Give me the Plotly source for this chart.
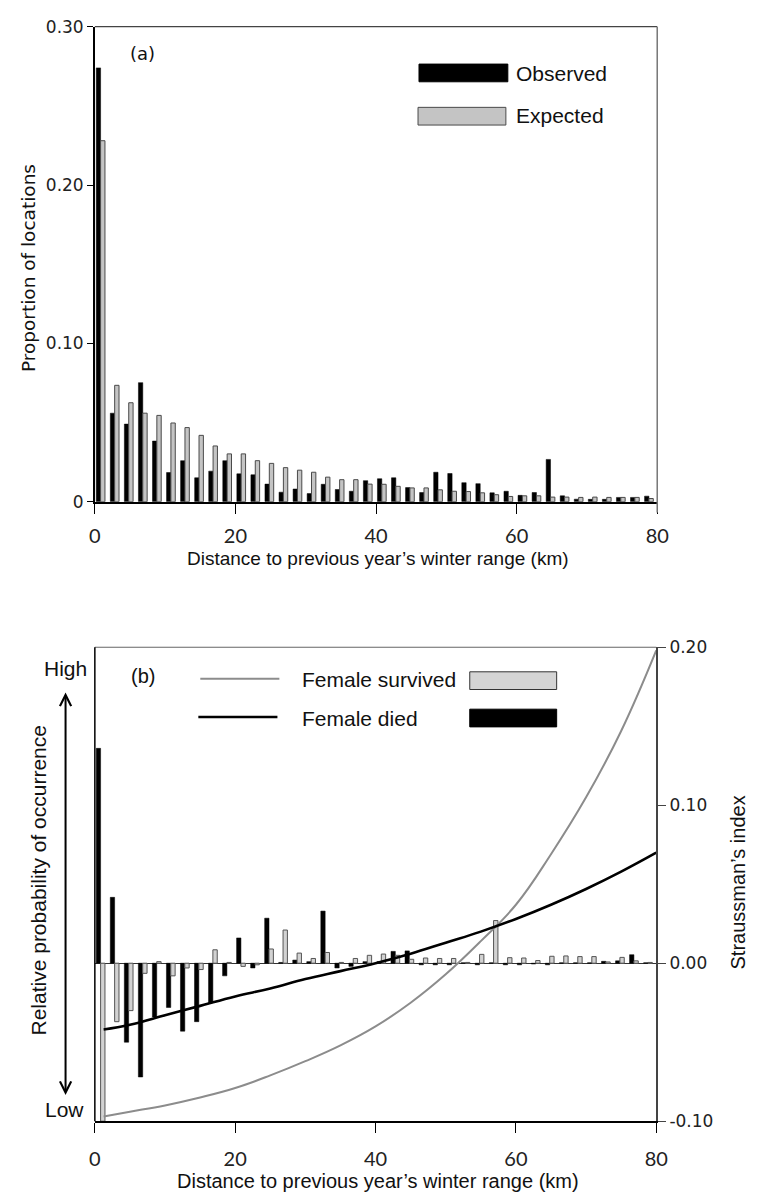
import plotly.graph_objects as go

W, H = 761, 1203

# ---------------- data ----------------
bin_start_km = list(range(0, 80, 2))  # 2-km distance bins, 0..78

# Panel (a): proportion of locations
observed = [0.274, 0.0559, 0.049, 0.0752, 0.0383, 0.0184, 0.0259, 0.0151, 0.0193, 0.0259,
            0.0176, 0.017, 0.0111, 0.006, 0.008, 0.0051, 0.011, 0.0077, 0.0066, 0.0133,
            0.0145, 0.0151, 0.0089, 0.0058, 0.0186, 0.0178, 0.012, 0.0114, 0.0056, 0.0066,
            0.004, 0.0058, 0.0267, 0.0037, 0.0016, 0.0015, 0.0015, 0.0027, 0.0027, 0.0035]
expected = [0.228, 0.0735, 0.0625, 0.0559, 0.0545, 0.0497, 0.0468, 0.0419, 0.0352, 0.0302,
            0.0302, 0.0259, 0.0242, 0.0215, 0.0199, 0.0186, 0.0155, 0.0139, 0.0139, 0.0111,
            0.011, 0.0097, 0.0087, 0.0087, 0.0075, 0.0066, 0.0064, 0.0056, 0.0044, 0.0033,
            0.0037, 0.0037, 0.0029, 0.0029, 0.0027, 0.0029, 0.0027, 0.0027, 0.0027, 0.002]

# Panel (b): Straussman's index per bin
female_died = [0.136, 0.0417, -0.050, -0.072, -0.034, -0.028, -0.043, -0.037, -0.025, -0.008,
               0.016, -0.003, 0.0285, 0.0005, 0.002, 0.001, 0.033, -0.003, -0.002, 0.001,
               0.001, 0.0075, 0.0078, -0.001, -0.001, -0.001, 0.0003, -0.001, 0.0003, -0.001,
               -0.001, -0.0005, -0.001, 0.0003, 0.0003, 0.0003, 0.0012, 0.0015, 0.0054, 0.0003]
female_survived = [-0.100, -0.037, -0.030, -0.0064, 0.001, -0.008, -0.003, -0.004, 0.0085, 0.0005,
                   -0.002, -0.001, 0.009, 0.021, 0.0064, 0.003, 0.0068, 0.0005, 0.003, 0.005,
                   0.0058, 0.005, 0.0025, 0.0033, 0.003, 0.003, 0.0005, 0.0056, 0.027, 0.0035,
                   0.0033, 0.0017, 0.0044, 0.0046, 0.0042, 0.0042, 0.0008, 0.0037, 0.0015, 0.0005]

# Fitted curves
curve_km = [1.25, 5, 10, 15, 20, 25, 30, 35, 40, 45, 50, 55, 60, 65, 70, 75, 80]
survived_curve = [-0.097, -0.094, -0.090, -0.085, -0.079, -0.071, -0.062, -0.052, -0.040,
                  -0.025, -0.007, 0.014, 0.037, 0.069, 0.105, 0.147, 0.198]
died_curve = [-0.042, -0.039, -0.033, -0.027, -0.021, -0.016, -0.010, -0.005, 0.000,
              0.006, 0.013, 0.020, 0.028, 0.037, 0.047, 0.058, 0.070]

x_ticks = [0, 20, 40, 60, 80]
x_ticktext = ["0", "20", "40", "60", "80"]
ya_ticks = [0, 0.1, 0.2, 0.3]
ya_ticktext = ["0", "0.10", "0.20", "0.30"]
yb_ticks = [-0.1, 0.0, 0.1, 0.2]
yb_ticktext = ["-0.10", "0.00", "0.10", "0.20"]

# ---------------- helpers ----------------
def px(x):
    return x / W

def py(y):
    return 1 - y / H

VER = "DejaVu Sans"
ARI = "Liberation Sans, Arial"
CAL = "Lato, Liberation Sans"

fig = go.Figure()

BW = 0.62
# Panel (a) bars
fig.add_trace(go.Bar(x=bin_start_km, y=observed, offset=0.2, width=BW,
                     marker=dict(color="black", line=dict(color="black", width=0.5)),
                     xaxis="x", yaxis="y", showlegend=False))
fig.add_trace(go.Bar(x=bin_start_km, y=expected, offset=0.2 + BW, width=BW,
                     marker=dict(color="#c4c4c4", line=dict(color="#4a4a4a", width=1)),
                     xaxis="x", yaxis="y", showlegend=False))

# Panel (b) bars
fig.add_trace(go.Bar(x=bin_start_km, y=female_died, offset=0.2, width=BW,
                     marker=dict(color="black", line=dict(color="black", width=0.5)),
                     xaxis="x2", yaxis="y2", showlegend=False))
fig.add_trace(go.Bar(x=bin_start_km, y=female_survived, offset=0.2 + BW, width=BW,
                     marker=dict(color="#d2d2d2", line=dict(color="#555555", width=1)),
                     xaxis="x2", yaxis="y2", showlegend=False))

# Panel (b) curves
fig.add_trace(go.Scatter(x=curve_km, y=survived_curve, mode="lines",
                         line=dict(color="#8c8c8c", width=2, shape="spline", smoothing=1.2),
                         xaxis="x2", yaxis="y2", showlegend=False))
fig.add_trace(go.Scatter(x=curve_km, y=died_curve, mode="lines",
                         line=dict(color="black", width=2.6, shape="spline", smoothing=1.2),
                         xaxis="x2", yaxis="y2", showlegend=False))

fig.update_layout(
    width=W, height=H,
    margin=dict(l=0, r=0, t=0, b=0),
    paper_bgcolor="white", plot_bgcolor="white",
    barmode="overlay",
    xaxis=dict(domain=[px(91), px(667)], range=[0, 80], anchor="y",
               showline=True, linecolor="black", linewidth=1.5,
               ticks="outside", ticklen=11, tickwidth=1, tickcolor="black",
               ticklabelstandoff=5,
               tickvals=x_ticks, ticktext=x_ticktext, showgrid=False, zeroline=False,
               tickfont=dict(family=CAL, size=20, color="#222")),
    yaxis=dict(domain=[py(500), py(17)], range=[0, 0.30], anchor="x",
               showline=True, linecolor="black", linewidth=1.5,
               ticks="outside", ticklen=6, tickwidth=1, tickcolor="black",
               tickvals=ya_ticks, ticktext=ya_ticktext, showgrid=False, zeroline=False,
               tickfont=dict(family=VER, size=17, color="#222")),
    xaxis2=dict(domain=[px(91), px(666)], range=[0, 80], anchor="y2",
                showline=True, linecolor="black", linewidth=1.5,
                ticks="outside", ticklen=10, tickwidth=1, tickcolor="black",
                ticklabelstandoff=9,
                tickvals=x_ticks, ticktext=x_ticktext, showgrid=False, zeroline=False,
                tickfont=dict(family=CAL, size=20, color="#222")),
    yaxis2=dict(domain=[py(1130), py(648)], range=[-0.1, 0.2], anchor="x2", side="right",
                showline=True, linecolor="#444", linewidth=1.5,
                ticks="outside", ticklen=8, tickwidth=1, tickcolor="#444",
                tickvals=yb_ticks, ticktext=yb_ticktext, showgrid=False,
                zeroline=True, zerolinecolor="#333", zerolinewidth=1,
                tickfont=dict(family=VER, size=17, color="#222")),
)

shapes = []
# borders
shapes.append(dict(type="line", xref="paper", yref="paper", x0=px(91), x1=px(667), y0=py(17), y1=py(17),
                   line=dict(color="#444", width=1.2)))
shapes.append(dict(type="line", xref="paper", yref="paper", x0=px(667), x1=px(667), y0=py(17), y1=py(511),
                   line=dict(color="#777", width=1.5)))
shapes.append(dict(type="line", xref="paper", yref="paper", x0=px(91), x1=px(666), y0=py(648), y1=py(648),
                   line=dict(color="#666", width=1.2)))
shapes.append(dict(type="line", xref="paper", yref="paper", x0=px(91), x1=px(91), y0=py(648), y1=py(1130),
                   line=dict(color="black", width=1.5)))
# legend (a)
shapes.append(dict(type="rect", xref="paper", yref="paper", x0=px(423), x1=px(514), y0=py(73), y1=py(55),
                   fillcolor="black", line=dict(color="black", width=1)))
shapes.append(dict(type="rect", xref="paper", yref="paper", x0=px(422), x1=px(512), y0=py(117), y1=py(99),
                   fillcolor="#c4c4c4", line=dict(color="#4a4a4a", width=1)))
# legend (b)
shapes.append(dict(type="line", xref="paper", yref="paper", x0=px(199), x1=px(280), y0=py(680), y1=py(680),
                   line=dict(color="#8c8c8c", width=2)))
shapes.append(dict(type="line", xref="paper", yref="paper", x0=px(197), x1=px(278), y0=py(719), y1=py(719),
                   line=dict(color="black", width=2.6)))
shapes.append(dict(type="rect", xref="paper", yref="paper", x0=px(475), x1=px(564), y0=py(691), y1=py(673),
                   fillcolor="#d4d4d4", line=dict(color="#333", width=1)))
shapes.append(dict(type="rect", xref="paper", yref="paper", x0=px(475), x1=px(564), y0=py(729), y1=py(711),
                   fillcolor="black", line=dict(color="black", width=1)))
fig.update_layout(shapes=shapes)

ann = []
def text(t, x, y, family=ARI, size=20, xanchor="center", angle=0, color="#111"):
    ann.append(dict(text=t, x=px(x), y=py(y), xref="paper", yref="paper", showarrow=False,
                    xanchor=xanchor, yanchor="middle", textangle=angle,
                    font=dict(family=family, size=size, color=color)))

text("(a)", 140, 44, family=VER, size=18)
text("Observed", 520, 65, size=21, xanchor="left")
text("Expected", 520, 107, size=21, xanchor="left")
text("Proportion of locations", 23, 262, family=VER, size=18.5, angle=-90)
text("Distance to previous year\u2019s winter range (km)", 381, 558, size=19)

text("(b)", 140, 677, size=20)
text("Female survived", 301, 681, size=21, xanchor="left")
text("Female died", 301, 720, size=21, xanchor="left")
text("High", 61, 670, size=21)
text("Low", 60, 1118, size=21)
text("Relative probability of occurrence", 33, 885, size=21, angle=-90)
text("Straussman\u2019s index", 750, 887, size=20, angle=-90)
text("Distance to previous year\u2019s winter range (km)", 381, 1191, size=20)

# double-headed arrow (head at top, tail 404 px lower)
ann.append(dict(text="", x=px(61), y=py(694), xref="paper", yref="paper",
                axref="pixel", ayref="pixel", ax=0, ay=404,
                showarrow=True, arrowside="end+start", arrowhead=5, arrowsize=1.1,
                arrowwidth=2, arrowcolor="black"))
fig.update_layout(annotations=ann)

fig.write_html("out.html", config={"displayModeBar": False},
               post_script="document.body.style.margin='0px';document.body.style.overflow='hidden';")
